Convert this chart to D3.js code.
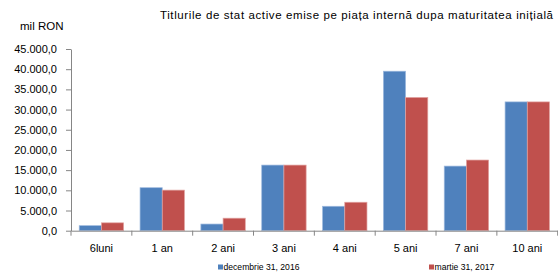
<!DOCTYPE html>
<html>
<head>
<meta charset="utf-8">
<script src="https://cdn.jsdelivr.net/npm/d3@7"></script>
<style>
  body { margin: 0; background: #fff; }
  svg { display: block; font-family: "Liberation Sans", Arial, sans-serif; }
</style>
</head>
<body>
<div id="chart"></div>
<script>
// Chart data.
var categories = ["6luni", "1 an", "2 ani", "3 ani", "4 ani", "5 ani", "7 ani", "10 ani"];
var seriesNames = ["decembrie 31, 2016", "martie 31, 2017"];
var dec2016 = [1250, 10650, 1650, 16250, 6050, 39500, 16000, 31900];
var mar2017 = [1950, 10050, 3100, 16250, 7050, 33000, 17500, 31900];
var yTicks = [0, 5000, 10000, 15000, 20000, 25000, 30000, 35000, 40000, 45000];

var colors = ["#4F81BD", "#C0504D"];
var edges = ["#9DB9DE", "#E2A3A1"];

var width = 558, height = 273;
var m = { left: 71, right: 0.3, top: 49, bottom: 42.3 };

var svg = d3.select("#chart").append("svg")
    .attr("width", width)
    .attr("height", height);

var x = d3.scaleBand()
    .domain(categories)
    .range([m.left, width - m.right])
    .paddingInner(0)
    .paddingOuter(0);

var x1 = d3.scaleBand()
    .domain([0, 1])
    .range([0, x.bandwidth()])
    .paddingOuter(0.37)
    .paddingInner(0);

var y = d3.scaleLinear()
    .domain([0, 45000])
    .range([height - m.bottom, m.top]);

var fmt = function(v) {
  return d3.format(",.1f")(v).replace(/,/g, "#").replace(".", ",").replace(/#/g, ".");
};

// Title and unit.
svg.append("text")
    .attr("x", 160)
    .attr("y", 19)
    .attr("textLength", 393)
    .attr("lengthAdjust", "spacing")
    .style("font-size", "11.5px")
    .style("fill", "#000")
    .text("Titlurile  de stat active emise pe piața internă dupa maturitatea inițială");

svg.append("text")
    .attr("x", 20)
    .attr("y", 30)
    .style("font-size", "11.5px")
    .style("fill", "#000")
    .text("mil RON");

// Bars.
var rows = categories.map(function(c, i) { return { cat: c, vals: [dec2016[i], mar2017[i]] }; });

var g = svg.selectAll("g.grp")
    .data(rows)
    .enter().append("g")
    .attr("class", "grp")
    .attr("transform", function(d) { return "translate(" + x(d.cat) + ",0)"; });

g.selectAll("rect")
    .data(function(d) { return d.vals; })
    .enter().append("rect")
    .attr("x", function(d, i) { return x1(i); })
    .attr("y", function(d) { return y(d); })
    .attr("width", x1.bandwidth())
    .attr("height", function(d) { return y(0) - y(d); })
    .style("fill", function(d, i) { return colors[i]; })
    .style("stroke", function(d, i) { return edges[i]; })
    .style("stroke-width", 0.7);

// Y axis.
var yAxis = svg.append("g")
    .attr("transform", "translate(" + m.left + ",0)")
    .call(d3.axisLeft(y).tickValues(yTicks).tickSize(5).tickSizeOuter(0).tickFormat(fmt));
yAxis.select(".domain").attr("stroke", "#868686");
yAxis.selectAll(".tick line").attr("stroke", "#868686");
yAxis.selectAll(".tick text")
    .attr("x", -14)
    .style("font-size", "11px")
    .style("fill", "#000")
    .style("font-family", "Liberation Sans, Arial, sans-serif");

// X axis.
var xAxis = svg.append("g")
    .attr("transform", "translate(0," + y(0) + ")")
    .call(d3.axisBottom(x).tickSize(0).tickSizeOuter(0));
xAxis.select(".domain").attr("stroke", "#868686");
xAxis.selectAll(".tick text")
    .attr("y", 14)
    .style("font-size", "11px")
    .style("fill", "#000")
    .style("font-family", "Liberation Sans, Arial, sans-serif");

// Category separators.
var seps = d3.range(categories.length + 1).map(function(i) { return m.left + i * x.step(); });
svg.selectAll("line.sep")
    .data(seps)
    .enter().append("line")
    .attr("class", "sep")
    .attr("x1", function(d) { return d; })
    .attr("x2", function(d) { return d; })
    .attr("y1", y(0))
    .attr("y2", y(0) + 5)
    .attr("stroke", "#868686");

// Legend.
var legendX = [218, 429];
var lg = svg.selectAll("g.legend")
    .data(seriesNames)
    .enter().append("g")
    .attr("class", "legend")
    .attr("transform", function(d, i) { return "translate(" + legendX[i] + ",267)"; });

lg.append("rect")
    .attr("x", 0)
    .attr("y", -2.5)
    .attr("width", 5)
    .attr("height", 5)
    .style("fill", function(d, i) { return colors[i]; });

lg.append("text")
    .attr("x", 5.5)
    .attr("y", 0)
    .attr("dy", "0.35em")
    .style("font-size", "8.6px")
    .style("fill", "#000")
    .text(function(d) { return d; });
</script>
</body>
</html>
